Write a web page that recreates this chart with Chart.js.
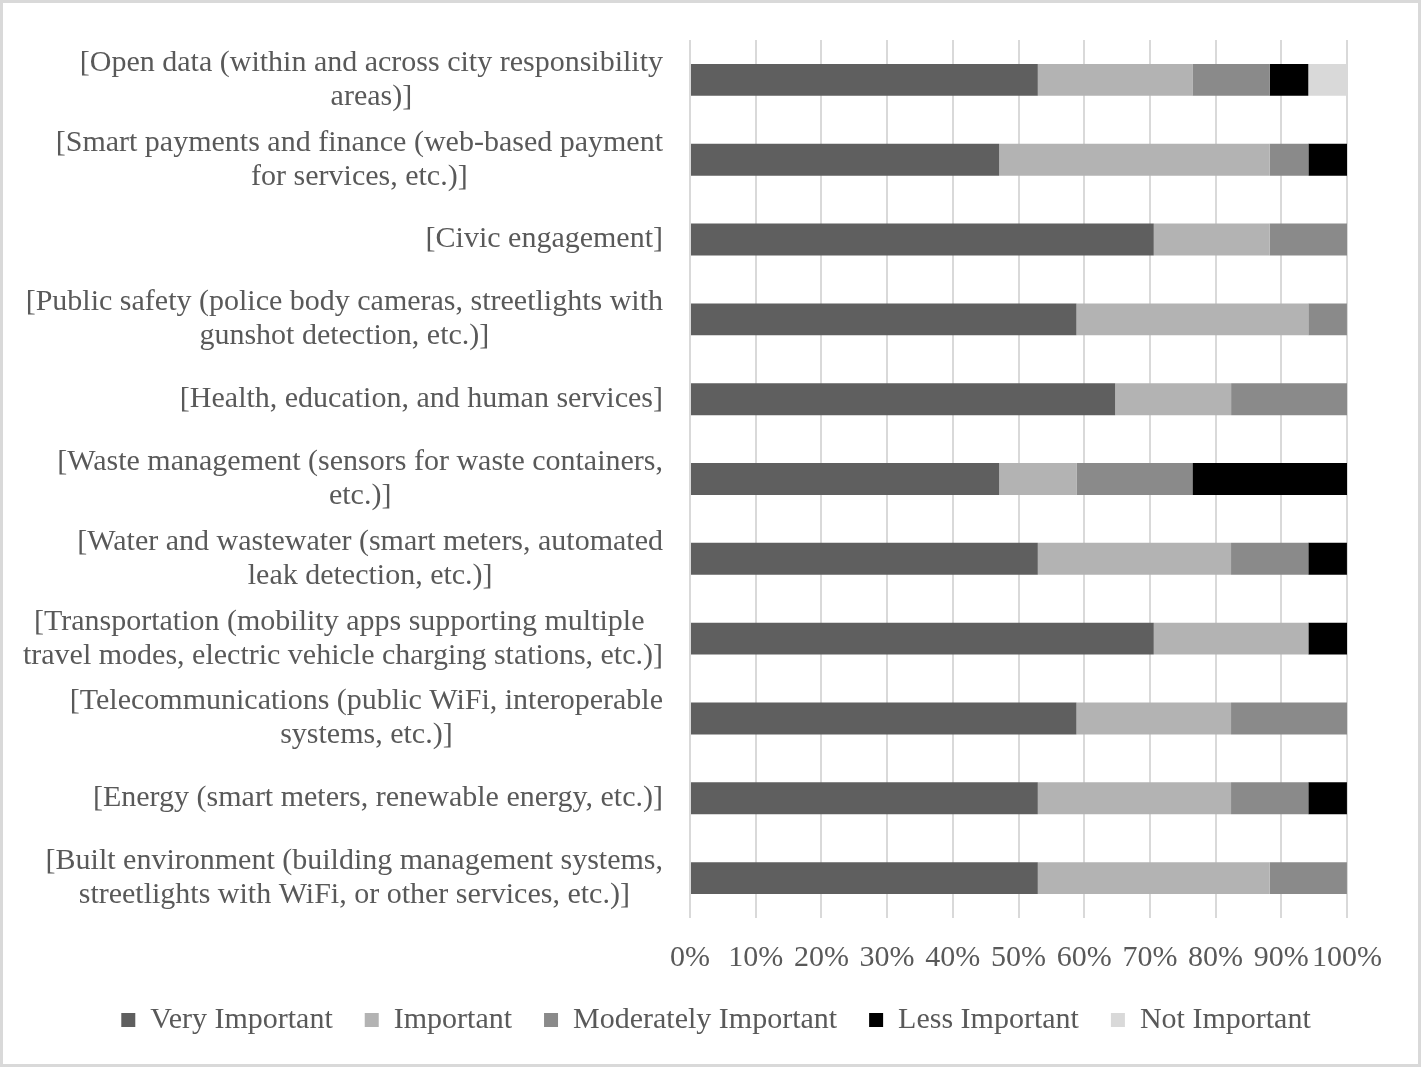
<!DOCTYPE html>
<html>
<head>
<meta charset="utf-8">
<title>Smart city priorities</title>
<script src="https://cdn.jsdelivr.net/npm/chart.js@4.4.1/dist/chart.umd.min.js"></script>
<style>
  html, body { margin: 0; padding: 0; background: #ffffff; }
  .frame {
    position: absolute; left: 0; top: 0;
    width: 1421px; height: 1067px;
    box-sizing: border-box;
    border: 3px solid #d9d9d9;
    background: #ffffff;
  }
  canvas { display: block; }
</style>
</head>
<body>
<div class="frame">
  <canvas id="priorityChart" width="1415" height="1061"></canvas>
</div>
<script>
// categories, as wrapped in the source figure
const categories = [
  ['[Open data (within and across city responsibility', 'areas)]'],
  ['[Smart payments and finance (web-based payment', 'for services, etc.)]'],
  ['[Civic engagement]'],
  ['[Public safety (police body cameras, streetlights with', 'gunshot detection, etc.)]'],
  ['[Health, education, and human services]'],
  ['[Waste management (sensors for waste containers,', 'etc.)]'],
  ['[Water and wastewater (smart meters, automated', 'leak detection, etc.)]'],
  ['[Transportation (mobility apps supporting multiple ', 'travel modes, electric vehicle charging stations, etc.)]'],
  ['[Telecommunications (public WiFi, interoperable', 'systems, etc.)]'],
  ['[Energy (smart meters, renewable energy, etc.)]'],
  ['[Built environment (building management systems,', 'streetlights with WiFi, or other services, etc.)]']
];

// share of respondents, percent
const veryImportant       = [52.94, 47.06, 70.59, 58.82, 64.71, 47.06, 52.94, 70.59, 58.82, 52.94, 52.94];
const important           = [23.53, 41.18, 17.65, 35.29, 17.65, 11.76, 29.41, 23.53, 23.53, 29.41, 35.29];
const moderatelyImportant = [11.76, 5.88, 11.76, 5.88, 17.65, 17.65, 11.76, 0, 17.65, 11.76, 11.76];
const lessImportant       = [5.88, 5.88, 0, 0, 0, 23.53, 5.88, 5.88, 0, 5.88, 0];
const notImportant        = [5.88, 0, 0, 0, 0, 0, 0, 0, 0, 0, 0];

const xTicks = [0, 10, 20, 30, 40, 50, 60, 70, 80, 90, 100];

const FONT = "'Liberation Serif', 'Times New Roman', serif";
const TEXT = '#595959';

// category labels: block right aligned, lines centred on each other
const categoryLabels = {
  id: 'categoryLabels',
  afterDraw(chart) {
    const ctx = chart.ctx;
    const yScale = chart.scales.y;
    const rightEdge = 660;
    const lineHeight = 34;
    ctx.save();
    ctx.font = '30px ' + FONT;
    ctx.fillStyle = TEXT;
    ctx.textAlign = 'center';
    ctx.textBaseline = 'middle';
    categories.forEach((lines, i) => {
      const y = yScale.getPixelForValue(i);
      const widest = Math.max(...lines.map(l => ctx.measureText(l).width));
      const cx = rightEdge - widest / 2;
      lines.forEach((line, j) => {
        ctx.fillText(line, cx, y + (j - (lines.length - 1) / 2) * lineHeight);
      });
    });
    ctx.restore();
  }
};

const ctx = document.getElementById('priorityChart').getContext('2d');
const chart = new Chart(ctx, {
  type: 'bar',
  data: {
    labels: categories.map(c => c.join(' ')),
    datasets: [
      { label: 'Very Important', data: veryImportant, backgroundColor: '#5f5f5f' },
      { label: 'Important', data: important, backgroundColor: '#b3b3b3' },
      { label: 'Moderately Important', data: moderatelyImportant, backgroundColor: '#8a8a8a' },
      { label: 'Less Important', data: lessImportant, backgroundColor: '#000000' },
      { label: 'Not Important', data: notImportant, backgroundColor: '#d9d9d9' }
    ]
  },
  options: {
    indexAxis: 'y',
    responsive: false,
    animation: false,
    devicePixelRatio: 1,
    datasets: {
      bar: { barPercentage: 0.4, categoryPercentage: 1.0, borderWidth: 0 }
    },
    layout: {
      padding: { left: 82, right: 71, top: 37, bottom: 19 }
    },
    scales: {
      x: {
        stacked: true,
        min: 0,
        max: 100,
        afterBuildTicks: scale => {
          scale.ticks = xTicks.map(v => ({ value: v }));
        },
        afterFit: scale => { scale.height = 55; },
        grid: { color: '#d9d9d9', lineWidth: 2, drawTicks: false },
        border: { display: false },
        ticks: {
          padding: 22,
          autoSkip: false,
          color: TEXT,
          font: { family: FONT, size: 30 },
          maxRotation: 0,
          callback: v => v + '%'
        }
      },
      y: {
        stacked: true,
        afterFit: scale => { scale.width = 605; },
        grid: { display: false },
        border: { display: false },
        ticks: { display: false }
      }
    },
    plugins: {
      legend: {
        position: 'bottom',
        labels: {
          boxWidth: 14,
          boxHeight: 14,
          padding: 32,
          color: TEXT,
          font: { family: FONT, size: 30 }
        }
      },
      tooltip: { enabled: false }
    }
  },
  plugins: [categoryLabels]
});
</script>
</body>
</html>
